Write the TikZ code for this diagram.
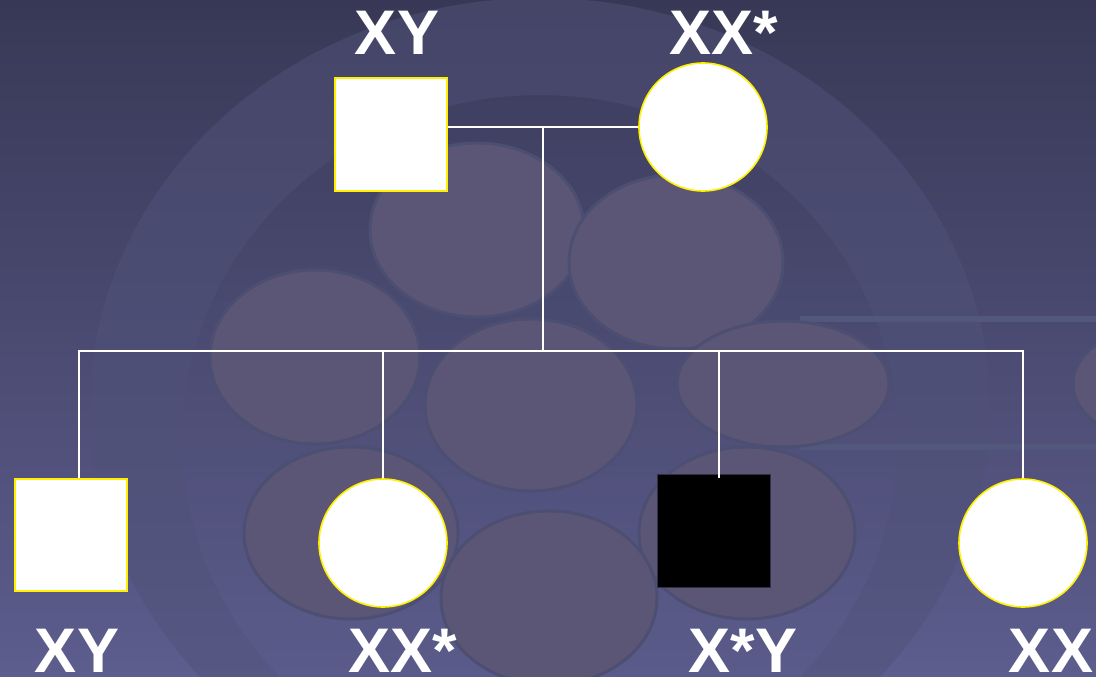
\documentclass[tikz,border=0pt]{standalone}
\usepackage{fontspec}
\setmainfont{Liberation Sans}
\definecolor{bgtop}{RGB}{56,56,86}
\definecolor{bgbot}{RGB}{93,93,142}
\definecolor{ringc}{RGB}{80,82,120}
\definecolor{cellfill}{RGB}{92,86,118}
\definecolor{cellline}{RGB}{76,79,114}
\definecolor{stripc}{RGB}{82,88,124}
\definecolor{pedyellow}{RGB}{255,240,0}
\tikzset{
  cell/.style={fill=cellfill, draw=cellline, line width=3pt},
  male/.style={rectangle, draw=pedyellow, fill=white, line width=2pt, minimum width=112pt, minimum height=112pt, inner sep=0pt},
  female/.style={circle, draw=pedyellow, fill=white, line width=1.6pt, minimum size=128pt, inner sep=0pt},
  affected/.style={rectangle, draw={rgb,255:red,50;green,48;blue,70}, fill=black, line width=1pt, minimum width=113pt, minimum height=113pt, inner sep=0pt},
  geno/.style={text=white, font=\fontsize{63}{63}\selectfont\bfseries, anchor=base, inner sep=0pt},
  link/.style={draw=white, line width=1.5pt}
}
\begin{document}
\begin{tikzpicture}[x=1pt,y=-1pt]
\useasboundingbox (0,0) rectangle (1096,677);
% background
\shade[top color=bgtop, bottom color=bgbot] (0,0) rectangle (1096,677);
\fill[ringc, opacity=0.5, even odd rule] (540,408) ellipse [x radius=450pt, y radius=410pt] (540,440) ellipse [x radius=358pt, y radius=345pt];
\fill[ringc, opacity=0.12] (540,440) ellipse [x radius=358pt, y radius=345pt];
% strips
\fill[stripc] (800,316) rectangle (1096,322);
\fill[stripc] (800,444) rectangle (1096,450);
% cells
\draw[cell] (477,230) ellipse [x radius=107pt, y radius=87pt];
\draw[cell] (676,262) ellipse [x radius=107pt, y radius=87pt];
\draw[cell] (315,357) ellipse [x radius=105pt, y radius=87pt];
\draw[cell] (531,405) ellipse [x radius=106pt, y radius=86pt];
\draw[cell] (783,384) ellipse [x radius=106pt, y radius=63pt];
\draw[cell] (1179,384) ellipse [x radius=106pt, y radius=63pt];
\draw[cell] (351,533) ellipse [x radius=107pt, y radius=86pt];
\draw[cell] (747,533) ellipse [x radius=108pt, y radius=86pt];
\draw[cell] (549,598) ellipse [x radius=108pt, y radius=87pt];
% pedigree nodes
\node[male] (f) at (391,134.5) {};
\node[female] (m) at (703,127) {};
\node[male] (c1) at (71,535) {};
\node[female] (c2) at (383,543) {};
\node[affected] (c3) at (713.5,530.5) {};
\node[female] (c4) at (1023,543) {};
\coordinate (mid) at (543,127);
\coordinate (sib) at (543,351);
% connectors
\draw[link] (f.east |- m.west) -- (m.west);
\draw[link] (mid) -- (sib);
\draw[link] ([xshift=8pt]c1.north) -- ([xshift=8pt]c1.north |- sib) -- (c4.north |- sib) -- (c4.north);
\draw[link] (c2.north) -- (c2.north |- sib);
\draw[link] ([shift={(5.5,4)}]c3.north) -- ([xshift=5.5pt]c3.north |- sib);
% labels
\node[geno] (lf) at (397,55) {XY};
\node[geno] (lm) at (724,55) {XX*};
\node[geno] (l1) at (77,672) {XY};
\node[geno] (l2) at (403,672) {XX*};
\node[geno] (l3) at (743,672) {X*Y};
\node[geno] (l4) at (1051,672) {XX};
\end{tikzpicture}
\end{document}
